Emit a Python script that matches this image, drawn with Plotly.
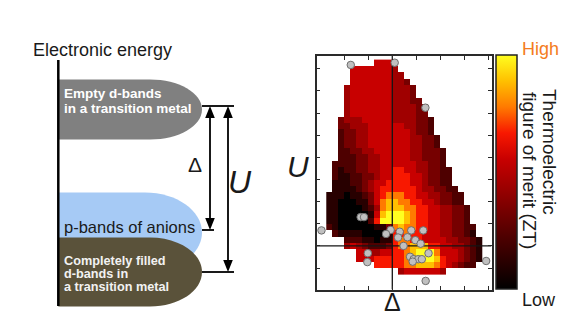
import numpy as np
import plotly.graph_objects as go

W, H = 576, 324
FONT = "Liberation Sans, Arial, sans-serif"

# ---------------------------------------------------------------------------
# ZT map over the (Delta, U) plane.  One string per U row (highest U first),
# one character per Delta column: '.' = no data, '0'..'9' = relative ZT level.
zt_rows = [
    "........555...............",
    "....55555554..............",
    "....555555544.............",
    "....5555555443............",
    "...455555554443...........",
    "...455555554443...........",
    "...4555555544433..........",
    "...45555555444433.........",
    "...45555555444433.........",
    "..3444555554444332........",
    "..3344455555544332........",
    "..2334455555554332........",
    "..23344555555544332.......",
    "..23344555555544332.......",
    "..223344555555443332......",
    "..222334455555443332......",
    ".2222334455555544332......",
    ".21223344556655443322.....",
    ".21122334556665543322.....",
    ".11122345566665543322.....",
    ".111123456666665443322....",
    "11101123567776655443322...",
    "11000113578877665543322...",
    "110000124788877665544332..",
    "110000015899987665544332..",
    "110000026999987665544332..",
    "2100000011378776655443322.",
    ".211110000166766555443321.",
    "...22211011677665555443321",
    "...45432223677888665544321",
    ".....554455667899975554321",
    ".....555666667899986554321",
    "........66666778887654322.",
    "............45555554......",
]

# Cell grid of the map (axis units: one tick = 1)
DELTA_CELL = 0.25
U_CELL = 2.0 / 7.0
DELTA_FIRST_CENTRE = 0.375
U_TOP_EDGE = 10.41

# Compounds (Delta, U)
comp_delta = [1.27, 3.10, 4.38, 1.68, 1.82, 0.05, 2.93, 2.74, 3.31, 3.79, 4.29,
              3.24, 3.63, 3.96, 4.18, 3.47, 4.51, 1.98, 1.96, 3.74, 3.89, 4.08,
              4.23, 3.85, 6.91, 4.39]
comp_u = [10.17, 10.27, 8.24, 3.30, 3.30, 2.70, 2.72, 2.54, 2.64, 2.70, 2.70,
          2.38, 2.39, 2.26, 2.10, 2.00, 1.67, 1.67, 1.27, 1.51, 1.40, 1.40,
          1.40, 1.29, 1.32, 0.42]

DELTA_REF = 3.0
U_REF = 2.0
DELTA_TICKS = [1, 2, 3, 4, 5, 6, 7]
U_TICKS = [1, 2, 3, 4, 5, 6, 7, 8, 9, 10]
DELTA_RANGE = [-0.158, 7.133]
U_RANGE = [0.032, 10.573]

# black -> dark red -> red -> orange -> yellow
zt_colors = ["#000000", "#280000", "#4e0000", "#760000", "#a00000",
             "#c80000", "#f81800", "#ff7a00", "#ffc000", "#ffff20"]
colorscale = [[i / 9, c] for i, c in enumerate(zt_colors)]

z = np.array([[np.nan if ch == "." else float(ch) for ch in row] for row in zt_rows])
delta_centres = DELTA_FIRST_CENTRE + DELTA_CELL * np.arange(z.shape[1])
u_centres = U_TOP_EDGE - U_CELL * (np.arange(z.shape[0]) + 0.5)

fig = go.Figure()

fig.add_trace(go.Heatmap(
    x=delta_centres, y=u_centres, z=z, zmin=0, zmax=9,
    colorscale=colorscale, zsmooth=False, hoverinfo="skip",
    xaxis="x", yaxis="y",
    colorbar=dict(
        x=496 / W, xanchor="left", y=(H - 172.2) / H, yanchor="middle",
        len=234, lenmode="pixels", thickness=21, thicknessmode="pixels",
        outlinewidth=1.5, outlinecolor="#222222", showticklabels=False,
        ticks="", xpad=0, ypad=0,
    ),
))

# reference lines at Delta = 3 and U = 2
fig.add_trace(go.Scatter(x=[DELTA_REF, DELTA_REF], y=U_RANGE, mode="lines",
                         line=dict(color="#151515", width=1.3),
                         hoverinfo="skip", showlegend=False))
fig.add_trace(go.Scatter(x=DELTA_RANGE, y=[U_REF, U_REF], mode="lines",
                         line=dict(color="#151515", width=1.3),
                         hoverinfo="skip", showlegend=False))

fig.add_trace(go.Scatter(
    x=comp_delta, y=comp_u, mode="markers", cliponaxis=False,
    marker=dict(size=7.5, color="#c0c0c0", line=dict(color="#6e6e6e", width=1)),
    hoverinfo="skip", showlegend=False))

# empty trace so the full-page diagram axes exist
fig.add_trace(go.Scatter(x=[], y=[], xaxis="x3", yaxis="y3", showlegend=False))

# ---------------------------------------------------------------------------
# Energy-level diagram (drawn in page pixel units on xaxis3/yaxis3)
AXIS_X = 58.3
BAND_TIP = 202
K = 0.5523


def band_path(yc, ry, x_flat):
    rx = BAND_TIP - x_flat
    return (f"M {AXIS_X},{yc - ry} L {x_flat},{yc - ry} "
            f"C {x_flat + K * rx},{yc - ry} {BAND_TIP},{yc - K * ry} {BAND_TIP},{yc} "
            f"C {BAND_TIP},{yc + K * ry} {x_flat + K * rx},{yc + ry} {x_flat},{yc + ry} "
            f"L {AXIS_X},{yc + ry} Z")


EMPTY_D = (109.5, 30, 150)
P_BAND = (232.5, 40, 145)
FILLED_D = (272, 34.5, 150)

shapes = []
for (yc, ry, xf), col in [(EMPTY_D, "#808080"), (P_BAND, "#a6caf5"), (FILLED_D, "#5a523a")]:
    shapes.append(dict(type="path", path=band_path(yc, ry, xf), xref="x3", yref="y3",
                       fillcolor=col, line=dict(width=0), layer="above"))

LW = 1.8
top_y = EMPTY_D[0] - 3.5
d_bot = P_BAND[0] - 2.5
u_bot = FILLED_D[0]
DX, UX = 210, 228


def seg(x0, y0, x1, y1):
    return dict(type="line", x0=x0, y0=y0, x1=x1, y1=y1, xref="x3", yref="y3",
                line=dict(color="#000000", width=LW), layer="above")


def head(x, ytip, direction):
    yb = ytip + 12 * direction
    return dict(type="path", path=f"M {x},{ytip} L {x - 4.8},{yb} L {x + 4.8},{yb} Z",
                xref="x3", yref="y3", fillcolor="#000000", line=dict(width=0),
                layer="above")


shapes += [
    seg(BAND_TIP, top_y, 234, top_y),
    seg(BAND_TIP, d_bot, 214, d_bot),
    seg(BAND_TIP, u_bot, 234, u_bot),
    seg(DX, top_y + 6, DX, d_bot - 6),
    seg(UX, top_y + 6, UX, u_bot - 6),
    head(DX, top_y, 1), head(DX, d_bot, -1),
    head(UX, top_y, 1), head(UX, u_bot, -1),
    dict(type="line", x0=AXIS_X, y0=60, x1=AXIS_X, y1=306, xref="x3", yref="y3",
         line=dict(color="#000000", width=2.5), layer="above"),
]


def txt(x, y, s, size, color="#1a1a1a", xanchor="center", weight="normal",
        style="normal", angle=0):
    return dict(x=x, y=y, xref="x3", yref="y3", text=s, showarrow=False,
                xanchor=xanchor, yanchor="middle", textangle=angle,
                font=dict(family=FONT, size=size, color=color, weight=weight,
                          style=style))


annotations = [
    txt(102, 50, "Electronic energy", 18),
    txt(61.5, 93, "Empty d-bands", 13.5, "#ffffff", "left", "bold"),
    txt(61.5, 108.5, "in a transition metal", 13.5, "#ffffff", "left", "bold"),
    txt(61.5, 227, "p-bands of anions", 16.5, "#1a1a1a", "left"),
    txt(61.5, 260.5, "Completely filled", 12.7, "#f2f2f2", "left", "bold"),
    txt(61.5, 273.5, "d-bands in", 12.7, "#f2f2f2", "left", "bold"),
    txt(61.5, 286.5, "a transition metal", 12.7, "#f2f2f2", "left", "bold"),
    txt(195, 164, "Δ", 21),
    txt(240, 182, "U", 32, style="italic"),
    txt(297.5, 166, "U", 30, style="italic"),
    txt(392, 302, "Δ", 25),
    txt(540, 49, "High", 18, "#f47b20"),
    txt(539, 300, "Low", 18),
    txt(550, 152, "Thermoelectric", 19, angle=90),
    txt(530, 170, "figure of merit (ZT)", 19, angle=90),
]

frame = dict(showline=True, mirror="ticks", linecolor="#2a2a2a", linewidth=1.5,
             ticks="inside", ticklen=4, tickwidth=1, tickcolor="#2a2a2a",
             showticklabels=False, showgrid=False, zeroline=False, fixedrange=True)

fig.update_layout(
    width=W, height=H, margin=dict(l=0, r=0, t=0, b=0),
    paper_bgcolor="white", plot_bgcolor="rgba(0,0,0,0)",
    showlegend=False,
    xaxis=dict(domain=[316.5 / W, 491.5 / W], range=DELTA_RANGE,
               tickvals=DELTA_TICKS, anchor="y", **frame),
    yaxis=dict(domain=[(H - 289.5) / H, (H - 56) / H], range=U_RANGE,
               tickvals=U_TICKS, anchor="x", **frame),
    xaxis3=dict(domain=[0, 1], range=[0, W], visible=False, anchor="y3",
                fixedrange=True),
    yaxis3=dict(domain=[0, 1], range=[H, 0], visible=False, anchor="x3",
                fixedrange=True),
    shapes=shapes,
    annotations=annotations,
)

fig.write_html("out.html")
